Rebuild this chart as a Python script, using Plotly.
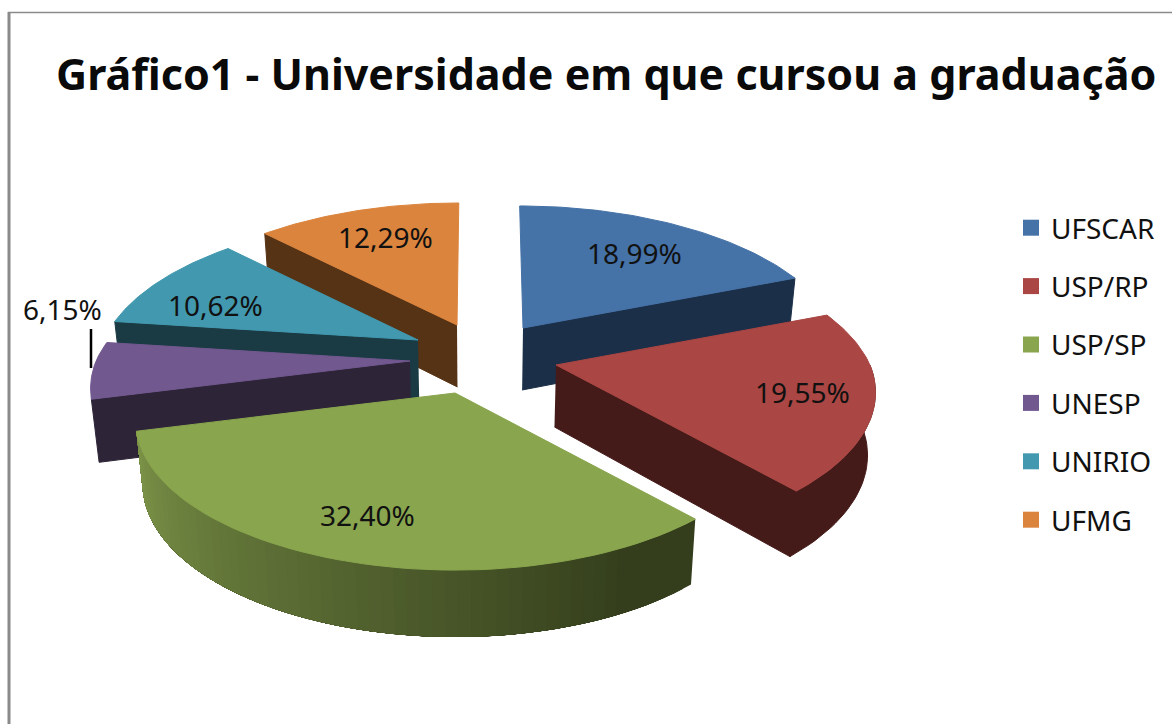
import numpy as np
import plotly.graph_objects as go

categories = ["UFSCAR", "USP/RP", "USP/SP", "UNESP", "UNIRIO", "UFMG"]
values = [18.99, 19.55, 32.40, 6.15, 10.62, 12.29]
pct_labels = ["18,99%", "19,55%", "32,40%", "6,15%", "10,62%", "12,29%"]
top_colors = ["#4572A7", "#AA4643", "#89A54E", "#71588F", "#4198AF", "#DB843D"]
wall_colors = ["#1C2F48", "#451B19", None, "#2D2438", "#1A3A44", "#573315"]

# layout of the exploded, tilted pie (pixel scale of the hidden axes)
apex_x = [523, 556, 455, 410, 418, 457]
apex_y = [328, 365, 393, 361, 340, 325]
label_x = [634, 802, 367, 62, 215, 385]
label_y = [253, 392, 515, 309, 305, 237]
draw_order = [5, 0, 4, 3, 1, 2]
CX, RX, A, P = 480, 314, 144.5, 0.184
GREEN_L, GREEN_D = np.array([0x7E, 0x96, 0x4A]), np.array([0x34, 0x3E, 0x1C])

edges = np.concatenate([[0], np.cumsum(values)]) / sum(values) * 2 * np.pi


def rim(i, th):
    th = np.asarray(th, float)
    u, v = np.sin(th), np.cos(th)
    s = 1 / (1 + P * v)
    x = apex_x[i] + RX * u * s + 0.5 * (apex_x[i] - CX) * np.minimum(s - 1, 0)
    y = apex_y[i] - A * v * s
    return x, y, s


def lower(x, y, s):
    return CX + (np.asarray(x) - CX) * 0.98, np.asarray(y) + 40 + 22 * np.asarray(s)


def poly(x, y, color, width=1):
    return go.Scatter(x=list(x), y=list(y), mode="lines", fill="toself", fillcolor=color,
                      line=dict(color=color, width=width), hoverinfo="skip", showlegend=False)


fig = go.Figure()

for i in draw_order:
    a0, a1 = edges[i], edges[i + 1]
    ax, ay = apex_x[i], apex_y[i]
    # radial wall
    if i in (0, 1):
        ex, ey, es = rim(i, a1)
    elif i in (3, 4, 5):
        ex, ey, es = rim(i, a0)
    else:
        ex = None
    if ex is not None:
        tx = np.array([ax, ex]); ty = np.array([ay, ey]); ts = np.array([1.0, es])
        bx, by = lower(tx, ty, ts)
        fig.add_trace(poly(np.r_[tx, bx[::-1]], np.r_[ty, by[::-1]], wall_colors[i]))
    # outer wall
    if i == 1:
        th = np.linspace(np.pi / 2, a1, 30)
        tx, ty, ts = rim(i, th)
        bx, by = lower(tx, ty, ts)
        fig.add_trace(poly(np.r_[tx, bx[::-1]], np.r_[ty, by[::-1]], wall_colors[i]))
    if i == 2:
        steps = np.linspace(a0, a1, 61)
        for k in range(60):
            th = np.linspace(steps[k], a1, 60)
            tx, ty, ts = rim(i, th)
            bx, by = lower(tx, ty, ts)
            f = min(1, max(0, (a1 - steps[k]) / (a1 - a0) * 1.12))
            c = GREEN_D + (GREEN_L - GREEN_D) * (1 - f)
            col = "rgb(%d,%d,%d)" % tuple(c)
            fig.add_trace(poly(np.r_[tx, bx[::-1]], np.r_[ty, by[::-1]], col, width=0))
    # top face
    th = np.linspace(a0, a1, 60)
    tx, ty, _ = rim(i, th)
    fig.add_trace(poly(np.r_[ax, tx, ax], np.r_[ay, ty, ay], top_colors[i]))

# legend entries
for name, col in zip(categories, top_colors):
    fig.add_trace(go.Scatter(x=[None], y=[None], mode="markers", name=name, legendgroup=name,
                             marker=dict(symbol="square", size=17, color=col)))

for t, x, y in zip(pct_labels, label_x, label_y):
    fig.add_annotation(x=x, y=y, text=t, showarrow=False, xanchor="center", yanchor="middle",
                       font=dict(family="Noto Sans", size=28, color="#111111"))

fig.add_annotation(x=606, y=73, text="<b>Gráfico1 - Universidade em que cursou a graduação</b>",
                   showarrow=False, xanchor="center", yanchor="middle",
                   font=dict(family="Noto Sans", size=43, color="#0a0a0a"))

fig.update_layout(
    width=1172, height=724, margin=dict(l=0, r=0, t=0, b=0),
    paper_bgcolor="white", plot_bgcolor="white",
    xaxis=dict(range=[0, 1172], visible=False, fixedrange=True),
    yaxis=dict(range=[724, 0], visible=False, fixedrange=True),
    legend=dict(x=1011 / 1172, y=1 - 203 / 724, xanchor="left", yanchor="top",
                tracegroupgap=19, itemwidth=30, bgcolor="rgba(0,0,0,0)",
                font=dict(family="Noto Sans", size=28, color="#111111")),
    shapes=[
        dict(type="line", x0=9, x1=9, y0=12, y1=724, line=dict(color="#8a8a8a", width=3)),
        dict(type="line", x0=8, x1=1172, y0=12.5, y1=12.5, line=dict(color="#8a8a8a", width=1.5)),
        dict(type="line", x0=91, x1=91, y0=329, y1=368, line=dict(color="black", width=2.5)),
    ],
)
fig.write_html("out.html", config=dict(displayModeBar=False),
               post_script="document.body.style.margin='0';document.documentElement.style.overflow='hidden';")
